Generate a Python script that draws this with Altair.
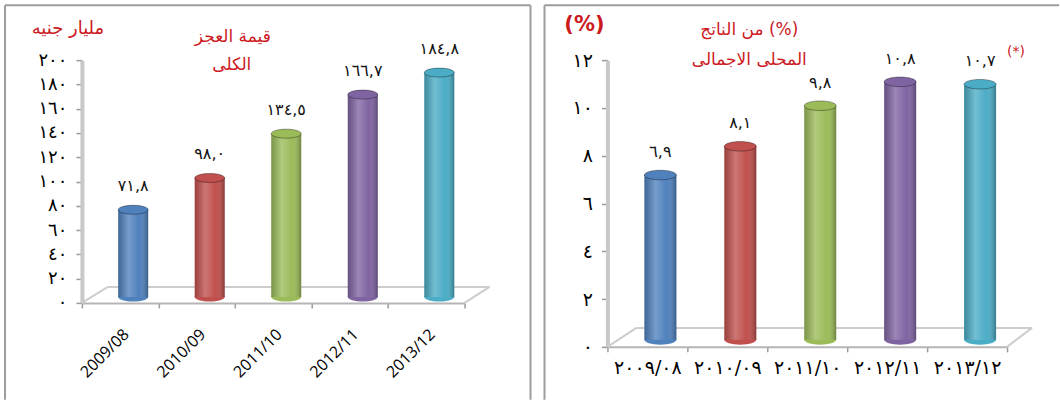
import altair as alt
import pandas as pd

# Budget deficit, Egypt, fiscal years 2008/09 - 2012/13
periods = ["2009/08", "2010/09", "2011/10", "2012/11", "2013/12"]
deficit_bn = [71.8, 98.0, 134.5, 166.7, 184.8]      # billion EGP
deficit_gdp = [6.9, 8.1, 9.8, 10.8, 10.7]           # % of GDP
bar_colors = ["#4F81BD", "#C0504D", "#9BBB59", "#8064A2", "#4BACC6"]
ticks_bn = list(range(0, 201, 20))
ticks_gdp = list(range(0, 13, 2))

FONT = "DejaVu Sans"
RED = "#CC1A1F"
AR_DIGITS = str.maketrans("0123456789", "٠١٢٣٤٥٦٧٨٩")


def ar(s):
    return str(s).translate(AR_DIGITS)


def label_map(keys):
    pairs = ",".join(f"'{k}':'{ar(k)}'" for k in keys)
    return "{" + pairs + "}[datum.label]"


# elliptical cap for the cylinders (unit path, scaled by symbol size)
ELLIPSE = "M-1,0A1,0.3 0 1,0 1,0A1,0.3 0 1,0 -1,0Z"

SHINE = alt.LinearGradient(
    gradient="linear", x1=0, x2=1, y1=0, y2=0,
    stops=[
        alt.GradientStop(offset=0, color="rgba(0,0,0,0.20)"),
        alt.GradientStop(offset=0.35, color="rgba(255,255,255,0.22)"),
        alt.GradientStop(offset=0.7, color="rgba(255,255,255,0.0)"),
        alt.GradientStop(offset=1, color="rgba(0,0,0,0.30)"),
    ],
)


def deco():
    return alt.Chart(alt.Data(values=[{}]))


def segment(x1, y1, x2, y2, color="#cdcdcd", width=2):
    return deco().mark_rule(color=color, strokeWidth=width).encode(
        x=alt.value(x1), y=alt.value(y1), x2=alt.value(x2), y2=alt.value(y2)
    )


def note(text, x, y, size, color=RED, weight="normal"):
    return deco().mark_text(
        text=text, font=FONT, fontSize=size, color=color, align="center", baseline="middle",
        fontWeight=weight, dir="rtl",
    ).encode(x=alt.value(x), y=alt.value(y))


def panel(values, ymax, ticks, width, height, bar_w, dy_bar, x_axis, y_label_size, frame, floor, notes):
    df = pd.DataFrame({
        "period": periods,
        "value": values,
        "floor": [0] * len(values),
        "label": [ar(f"{v:.1f}").replace(".", ",") for v in values],
    })
    base = alt.Chart(df)
    x = alt.X("period:N", sort=periods, title=None,
              scale=alt.Scale(paddingInner=0, paddingOuter=0), axis=x_axis)
    y_scale = alt.Scale(domain=[0, ymax], nice=False)
    # tickCount at least the number of explicit values, so none get thinned out
    y_axis = alt.Axis(values=ticks, tickCount=len(ticks) + 1, labelExpr=label_map(ticks), grid=False,
                      labelOverlap=False, labelFlush=False,
                      domainColor="#c8c8c8", domainWidth=4, tickColor="#9a9a9a",
                      tickSize=6, tickWidth=1.5, labelFont=FONT, labelFontSize=y_label_size,
                      labelColor="#000000", labelPadding=9)
    y = alt.Y("value:Q", title=None, scale=y_scale, axis=y_axis)
    y_floor = alt.Y("floor:Q", title=None, scale=y_scale, axis=y_axis)
    color = alt.Color("period:N", scale=alt.Scale(domain=periods, range=bar_colors), legend=None)
    off = dict(xOffset=13, yOffset=dy_bar)

    bottom_cap = base.mark_point(shape=ELLIPSE, size=bar_w ** 2, filled=True, opacity=1, **off).encode(
        x=x, y=y_floor, color=color)
    bars = base.mark_bar(size=bar_w, **off).encode(x=x, y=y, color=color)
    shine = base.mark_bar(size=bar_w, color=SHINE, **off).encode(x=x, y=y)
    top_cap = base.mark_point(shape=ELLIPSE, size=bar_w ** 2, filled=True, opacity=1,
                              stroke="rgba(0,0,0,0.35)", strokeWidth=1, **off).encode(x=x, y=y, color=color)
    labels = base.mark_text(font=FONT, fontSize=16, color="#111111", dx=13, dy=-30,
                            baseline="middle").encode(x=x, y=y, text="label:N")

    # panel frame: left, top and (optionally) right edges
    fx1, fx2, fy1, fy2, right_edge = frame
    border = [segment(fx1, fy1, fx1, fy2, "#9d9d9d"), segment(fx1, fy1, fx2, fy1, "#9d9d9d")]
    if right_edge:
        border.append(segment(fx2, fy1, fx2, fy2, "#9d9d9d"))
    back_l, back_r, back_y = floor
    floor_lines = [
        segment(0, height, back_l, back_y),
        segment(back_l, back_y, back_r, back_y),
        segment(back_r, back_y, width, height),
    ]
    layers = [*border, *floor_lines, bars, bottom_cap, shine, top_cap, labels, *notes]
    return alt.layer(*layers).properties(width=width, height=height)


left_axis = alt.Axis(labelAngle=-45, labelAlign="right", labelBaseline="top", labelFont="Open Sans",
                     labelFontSize=16, labelColor="#000000", labelPadding=18, tickBand="extent",
                     domainColor="#b5b5b5", domainWidth=2, tickColor="#9a9a9a", tickSize=5, tickWidth=1.5)
right_axis = alt.Axis(labelAngle=0, labelFont=FONT, labelFontSize=19, labelColor="#000000",
                      labelPadding=7, tickBand="extent", labelExpr=label_map(periods),
                      domainColor="#b5b5b5", domainWidth=2, tickColor="#9a9a9a", tickSize=5, tickWidth=1.5)

left = panel(
    deficit_bn, 200, ticks_bn, 383, 243, 30, -6, left_axis, 18,
    frame=(-77, 449, -55, 340, True), floor=(26, 408, 227),
    notes=[
        note("مليار جنيه", -14, -31, 18),
        note("قيمة العجز", 151, -23, 17),
        note("الكلى", 150, 5, 17),
    ],
)
right = panel(
    deficit_gdp, 12, ticks_gdp, 400, 287, 32, -7, right_axis, 19,
    frame=(-63, 452, -55, 340, False), floor=(29, 425, 268),
    notes=[
        note("(%)", -23, -35, 21, weight="bold"),
        note("من الناتج (%)", 142, -30, 17),
        note("المحلى الاجمالى", 142, 0, 17),
        note("(*)", 409, -8, 14),
    ],
)

chart = alt.hconcat(left, right, spacing=143, bounds="flush").properties(
    padding={"left": 4, "top": 4, "right": 0, "bottom": 0},
    autosize=alt.AutoSizeParams(type="pad"),
).configure_view(stroke=None)

chart.save("out.html", embed_options={"renderer": "svg", "actions": False})
